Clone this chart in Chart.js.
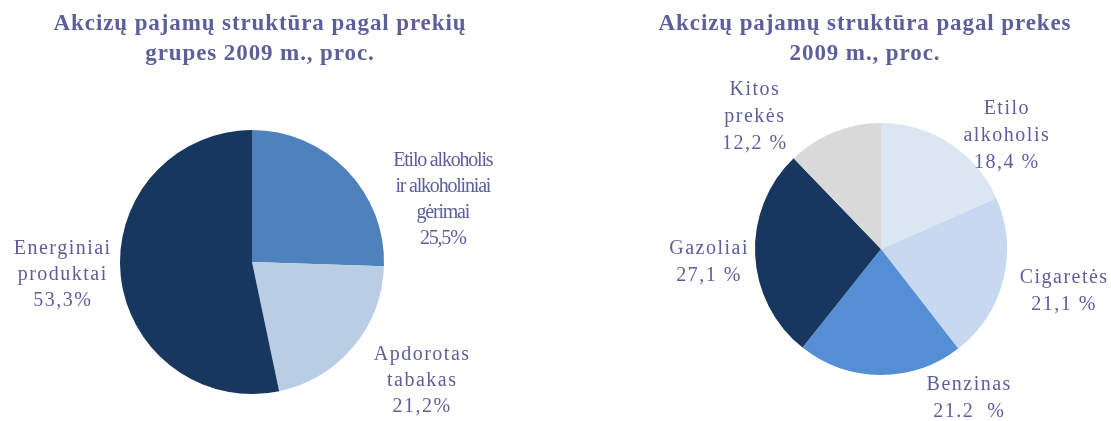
<!DOCTYPE html>
<html><head><meta charset="utf-8">
<script src="https://cdn.jsdelivr.net/npm/chart.js@4.4.1/dist/chart.umd.min.js"></script>
<style>
html,body{margin:0;padding:0;background:#fff;width:1111px;height:421px;overflow:hidden}
.box{position:absolute;top:0;height:421px}
</style></head><body>
<div class="box" style="left:0;width:560px"><canvas id="c1"></canvas></div>
<div class="box" style="left:643px;width:468px"><canvas id="c2"></canvas></div>
<script>
// ---- data ----
const titleLeft = ["Akcizų pajamų struktūra pagal prekių", "grupes 2009 m., proc."];
const categoriesLeft = [["Etilo alkoholis", "ir alkoholiniai", "gėrimai"], ["Apdorotas", "tabakas"], ["Energiniai", "produktai"]];
const valuesLeft = [25.5, 21.2, 53.3];
const valueLabelsLeft = ["25,5%", "21,2%", "53,3%"];

const titleRight = ["Akcizų pajamų struktūra pagal prekes", "2009 m., proc."];
const categoriesRight = [["Etilo", "alkoholis"], ["Cigaretės"], ["Benzinas"], ["Gazoliai"], ["Kitos", "prekės"]];
const valuesRight = [18.4, 21.1, 21.2, 27.1, 12.2];
const valueLabelsRight = ["18,4 %", "21,1 %", "21.2  %", "27,1 %", "12,2 %"];

// ---- styles ----
const textColor = "#5d5f9b";
const colorsLeft = ["#4f81bd", "#b9cde5", "#17375e"];
const colorsRight = ["#dce6f2", "#c6d9f1", "#558ed5", "#17375e", "#d9d9d9"];
// label placement: pixel nudge from the arc's outer mid point, letter spacing
const placeLeft = [
  {dx: 96, dy: 30, ls: -1.2},
  {dx: 69, dy: 34, ls: 1.5},
  {dx: -58, dy: -1, ls: 1.5}
];
const placeRight = [
  {dx: 57, dy: -8, ls: 1.5},
  {dx: 61, dy: 11, ls: 1.5},
  {dx: 89, dy: 23, ls: 1.5},
  {dx: -46, dy: 7, ls: 1.5},
  {dx: -79, dy: -15, ls: 1.5}
];

const titlePlugin = {
  id: 'spacedTitle',
  afterDraw(chart, args, opts) {
    const ctx = chart.ctx;
    ctx.save();
    ctx.font = "bold 23px 'Liberation Serif', 'Times New Roman', serif";
    ctx.fillStyle = textColor;
    ctx.textAlign = 'center';
    ctx.textBaseline = 'alphabetic';
    ctx.letterSpacing = '0.9px';
    opts.lines.forEach((t, k) => ctx.fillText(t, opts.x, opts.y + k * 30));
    ctx.restore();
  }
};

const labelPlugin = {
  id: 'sliceLabels',
  afterDatasetsDraw(chart, args, opts) {
    const ctx = chart.ctx;
    const meta = chart.getDatasetMeta(0);
    meta.data.forEach((arc, i) => {
      const p = arc.getProps(['x','y','startAngle','endAngle','outerRadius'], true);
      const mid = (p.startAngle + p.endAngle) / 2;
      const pl = opts.place[i];
      const cx = p.x + Math.cos(mid) * p.outerRadius + pl.dx;
      const cy = p.y + Math.sin(mid) * p.outerRadius + pl.dy;
      const lines = opts.cats[i].concat([opts.vals[i]]);
      const lh = opts.lineHeight;
      ctx.save();
      ctx.font = opts.font;
      ctx.fillStyle = textColor;
      ctx.textAlign = 'center';
      ctx.textBaseline = 'middle';
      ctx.letterSpacing = pl.ls + 'px';
      const top = cy - (lines.length - 1) * lh / 2;
      lines.forEach((t, k) => ctx.fillText(t, cx, top + k * lh));
      ctx.restore();
    });
  }
};

function make(id, title, titleX, cats, vals, valLabels, colors, place, pad, lh) {
  return new Chart(document.getElementById(id), {
    type: 'pie',
    data: {
      labels: cats.map(c => c.join(' ')),
      datasets: [{ data: vals, backgroundColor: colors, borderWidth: 0 }]
    },
    options: {
      responsive: true,
      maintainAspectRatio: false,
      animation: false,
      layout: { padding: pad },
      plugins: {
        legend: { display: false },
        tooltip: { enabled: false },
        title: { display: false },
        spacedTitle: { lines: title, x: titleX, y: 30 },
        sliceLabels: { cats: cats, vals: valLabels, place: place, font: "20px 'Liberation Serif', serif", lineHeight: lh }
      }
    },
    plugins: [titlePlugin, labelPlugin]
  });
}

make('c1', titleLeft, 260, categoriesLeft, valuesLeft, valueLabelsLeft, colorsLeft, placeLeft,
  {top: 130, left: 0, right: 56, bottom: 27}, 26);
make('c2', titleRight, 865 - 643, categoriesRight, valuesRight, valueLabelsRight, colorsRight, placeRight,
  {top: 123, left: 8, right: 0, bottom: 46}, 27);
</script>
</body></html>
